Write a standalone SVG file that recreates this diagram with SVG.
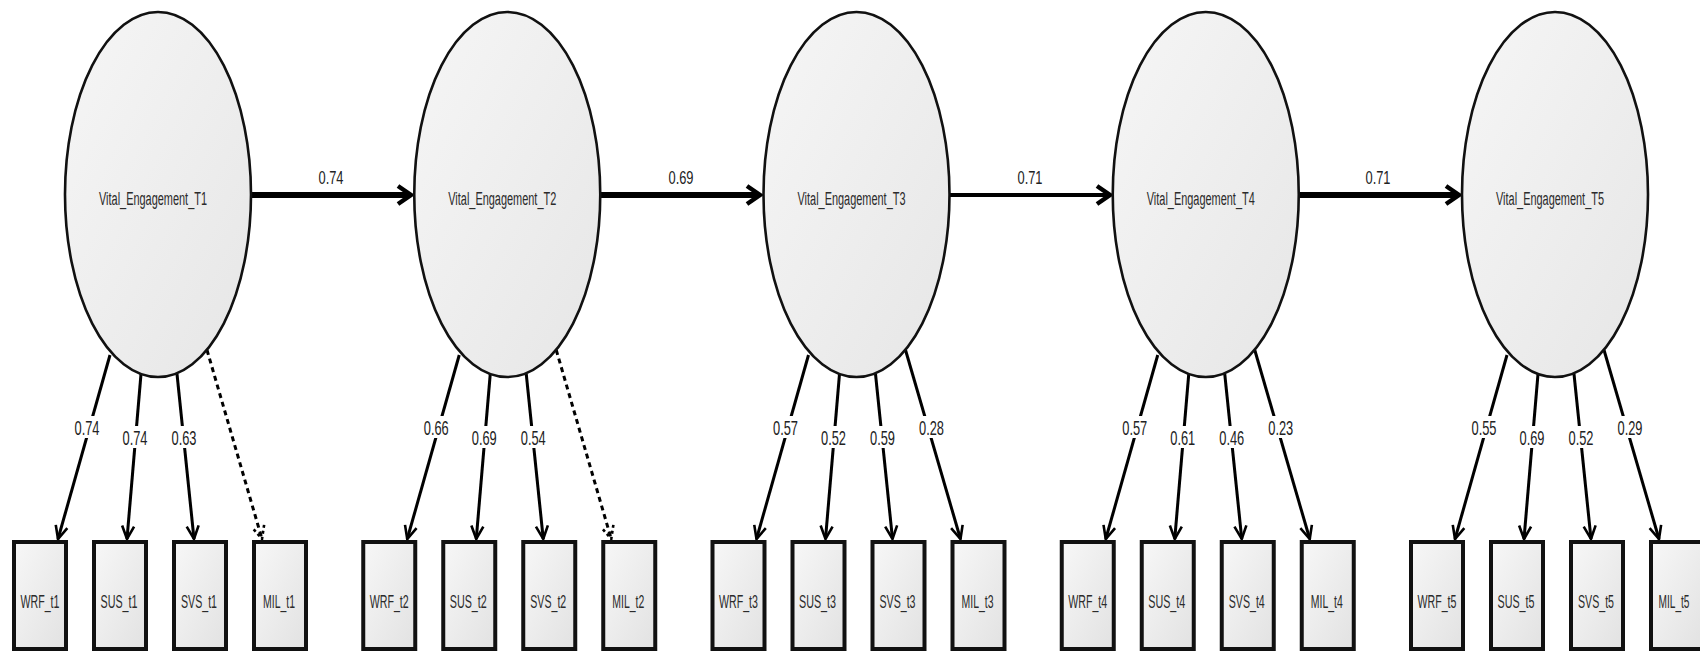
<svg xmlns="http://www.w3.org/2000/svg" width="1700" height="655" viewBox="0 0 1700 655">
  <style>
    text { font-family: "Liberation Sans", Arial, sans-serif; fill: #2b2b2b; text-anchor: middle; }
    .latent { fill: url(#latentFill); stroke: #111; stroke-width: 2.6; }
    .obs { fill: url(#obsFill); stroke: #111; stroke-width: 4; }
    .lname { font-size: 18px; }
    .oname { font-size: 19px; }
    .coef { font-size: 21px; fill: #222; }
    .pcoef { font-size: 19px; fill: #222; }
    .path { fill: none; stroke: #000; stroke-width: 6; marker-end: url(#bigHead); }
    .path.thin { stroke-width: 4; }
    .load { fill: none; stroke: #000; stroke-width: 3; marker-end: url(#smallHead); }
    .fixed { fill: none; stroke: #000; stroke-width: 3; stroke-dasharray: 5 4; marker-end: url(#dashHead); }
    .lblbg { fill: #fff; }
  </style>
  <defs>
    <linearGradient id="latentFill" x1="0" y1="0" x2="1" y2="1">
      <stop offset="0" stop-color="#f6f6f6"/>
      <stop offset="1" stop-color="#e6e6e6"/>
    </linearGradient>
    <linearGradient id="obsFill" x1="0" y1="0" x2="1" y2="1">
      <stop offset="0" stop-color="#f7f7f7"/>
      <stop offset="1" stop-color="#e2e2e2"/>
    </linearGradient>
    <marker id="bigHead" markerUnits="userSpaceOnUse" orient="auto" overflow="visible" markerWidth="20" markerHeight="20">
      <path d="M-12,-9 L1,0 L-12,9" fill="none" stroke="#000" stroke-width="4.5" stroke-linejoin="miter"/>
    </marker>
    <marker id="smallHead" markerUnits="userSpaceOnUse" orient="auto" overflow="visible" markerWidth="16" markerHeight="16">
      <path d="M-13,-6 L0,0 L-13,6" fill="none" stroke="#000" stroke-width="2.6"/>
    </marker>
    <marker id="dashHead" markerUnits="userSpaceOnUse" orient="auto" overflow="visible" markerWidth="16" markerHeight="16">
      <path d="M-13,-6 L0,0 L-13,6" fill="none" stroke="#000" stroke-width="2.6" stroke-dasharray="3 3"/>
    </marker>
  </defs>

  <!-- structural paths and factor loadings -->
  <g id="connectors">
    <line class="path" x1="251" y1="195" x2="410" y2="195"/>
    <line class="path" x1="600" y1="195" x2="759" y2="195"/>
    <line class="path thin" x1="949" y1="195" x2="1109" y2="195"/>
    <line class="path" x1="1299" y1="195" x2="1458" y2="195"/>

    <!-- T1 -->
    <line class="load" x1="110" y1="355" x2="58" y2="539"/>
    <line class="load" x1="141" y1="374" x2="127" y2="539"/>
    <line class="load" x1="177" y1="374" x2="194" y2="539"/>
    <line class="fixed" x1="207" y1="350" x2="262" y2="539"/>
    <!-- T2 -->
    <line class="load" x1="459.25" y1="355" x2="407.25" y2="539"/>
    <line class="load" x1="490.25" y1="374" x2="476.25" y2="539"/>
    <line class="load" x1="526.25" y1="374" x2="543.25" y2="539"/>
    <line class="fixed" x1="556.25" y1="350" x2="611.25" y2="539"/>
    <!-- T3 -->
    <line class="load" x1="808.5" y1="355" x2="756.5" y2="539"/>
    <line class="load" x1="839.5" y1="374" x2="825.5" y2="539"/>
    <line class="load" x1="875.5" y1="374" x2="892.5" y2="539"/>
    <line class="load" x1="905.5" y1="350" x2="960.5" y2="539"/>
    <!-- T4 -->
    <line class="load" x1="1157.75" y1="355" x2="1105.75" y2="539"/>
    <line class="load" x1="1188.75" y1="374" x2="1174.75" y2="539"/>
    <line class="load" x1="1224.75" y1="374" x2="1241.75" y2="539"/>
    <line class="load" x1="1254.75" y1="350" x2="1309.75" y2="539"/>
    <!-- T5 -->
    <line class="load" x1="1507" y1="355" x2="1455" y2="539"/>
    <line class="load" x1="1538" y1="374" x2="1524" y2="539"/>
    <line class="load" x1="1574" y1="374" x2="1591" y2="539"/>
    <line class="load" x1="1604" y1="350" x2="1659" y2="539"/>

    <!-- path coefficients -->
    <text class="pcoef" x="331" y="184" textLength="25" lengthAdjust="spacingAndGlyphs">0.74</text>
    <text class="pcoef" x="681" y="184" textLength="25" lengthAdjust="spacingAndGlyphs">0.69</text>
    <text class="pcoef" x="1030" y="184" textLength="25" lengthAdjust="spacingAndGlyphs">0.71</text>
    <text class="pcoef" x="1378" y="184" textLength="25" lengthAdjust="spacingAndGlyphs">0.71</text>

    <!-- loading labels -->
    <g id="loading-labels">
      <rect class="lblbg" x="73" y="416" width="28" height="22"/>
      <text class="coef" x="87" y="435" textLength="25" lengthAdjust="spacingAndGlyphs">0.74</text>
      <rect class="lblbg" x="121" y="426" width="28" height="22"/>
      <text class="coef" x="135" y="445" textLength="25" lengthAdjust="spacingAndGlyphs">0.74</text>
      <rect class="lblbg" x="170" y="426" width="28" height="22"/>
      <text class="coef" x="184" y="445" textLength="25" lengthAdjust="spacingAndGlyphs">0.63</text>

      <rect class="lblbg" x="422.25" y="416" width="28" height="22"/>
      <text class="coef" x="436.25" y="435" textLength="25" lengthAdjust="spacingAndGlyphs">0.66</text>
      <rect class="lblbg" x="470.25" y="426" width="28" height="22"/>
      <text class="coef" x="484.25" y="445" textLength="25" lengthAdjust="spacingAndGlyphs">0.69</text>
      <rect class="lblbg" x="519.25" y="426" width="28" height="22"/>
      <text class="coef" x="533.25" y="445" textLength="25" lengthAdjust="spacingAndGlyphs">0.54</text>

      <rect class="lblbg" x="771.5" y="416" width="28" height="22"/>
      <text class="coef" x="785.5" y="435" textLength="25" lengthAdjust="spacingAndGlyphs">0.57</text>
      <rect class="lblbg" x="819.5" y="426" width="28" height="22"/>
      <text class="coef" x="833.5" y="445" textLength="25" lengthAdjust="spacingAndGlyphs">0.52</text>
      <rect class="lblbg" x="868.5" y="426" width="28" height="22"/>
      <text class="coef" x="882.5" y="445" textLength="25" lengthAdjust="spacingAndGlyphs">0.59</text>
      <rect class="lblbg" x="917.5" y="416" width="28" height="22"/>
      <text class="coef" x="931.5" y="435" textLength="25" lengthAdjust="spacingAndGlyphs">0.28</text>

      <rect class="lblbg" x="1120.75" y="416" width="28" height="22"/>
      <text class="coef" x="1134.75" y="435" textLength="25" lengthAdjust="spacingAndGlyphs">0.57</text>
      <rect class="lblbg" x="1168.75" y="426" width="28" height="22"/>
      <text class="coef" x="1182.75" y="445" textLength="25" lengthAdjust="spacingAndGlyphs">0.61</text>
      <rect class="lblbg" x="1217.75" y="426" width="28" height="22"/>
      <text class="coef" x="1231.75" y="445" textLength="25" lengthAdjust="spacingAndGlyphs">0.46</text>
      <rect class="lblbg" x="1266.75" y="416" width="28" height="22"/>
      <text class="coef" x="1280.75" y="435" textLength="25" lengthAdjust="spacingAndGlyphs">0.23</text>

      <rect class="lblbg" x="1470" y="416" width="28" height="22"/>
      <text class="coef" x="1484" y="435" textLength="25" lengthAdjust="spacingAndGlyphs">0.55</text>
      <rect class="lblbg" x="1518" y="426" width="28" height="22"/>
      <text class="coef" x="1532" y="445" textLength="25" lengthAdjust="spacingAndGlyphs">0.69</text>
      <rect class="lblbg" x="1567" y="426" width="28" height="22"/>
      <text class="coef" x="1581" y="445" textLength="25" lengthAdjust="spacingAndGlyphs">0.52</text>
      <rect class="lblbg" x="1616" y="416" width="28" height="22"/>
      <text class="coef" x="1630" y="435" textLength="25" lengthAdjust="spacingAndGlyphs">0.29</text>
    </g>
  </g>

  <!-- latent factors -->
  <g id="Vital_Engagement_T1">
    <ellipse class="latent" cx="158" cy="194.5" rx="93" ry="182.5"/>
    <text class="lname" x="153" y="205" textLength="108" lengthAdjust="spacingAndGlyphs">Vital_Engagement_T1</text>
  </g>
  <g id="Vital_Engagement_T2">
    <ellipse class="latent" cx="507.25" cy="194.5" rx="93" ry="182.5"/>
    <text class="lname" x="502.25" y="205" textLength="108" lengthAdjust="spacingAndGlyphs">Vital_Engagement_T2</text>
  </g>
  <g id="Vital_Engagement_T3">
    <ellipse class="latent" cx="856.5" cy="194.5" rx="93" ry="182.5"/>
    <text class="lname" x="851.5" y="205" textLength="108" lengthAdjust="spacingAndGlyphs">Vital_Engagement_T3</text>
  </g>
  <g id="Vital_Engagement_T4">
    <ellipse class="latent" cx="1205.75" cy="194.5" rx="93" ry="182.5"/>
    <text class="lname" x="1200.75" y="205" textLength="108" lengthAdjust="spacingAndGlyphs">Vital_Engagement_T4</text>
  </g>
  <g id="Vital_Engagement_T5">
    <ellipse class="latent" cx="1555" cy="194.5" rx="93" ry="182.5"/>
    <text class="lname" x="1550" y="205" textLength="108" lengthAdjust="spacingAndGlyphs">Vital_Engagement_T5</text>
  </g>

  <!-- observed indicators -->
  <g id="WRF_t1"><rect class="obs" x="14" y="542" width="52" height="107"/><text class="oname" x="40" y="608" textLength="39" lengthAdjust="spacingAndGlyphs">WRF_t1</text></g>
  <g id="SUS_t1"><rect class="obs" x="94" y="542" width="52" height="107"/><text class="oname" x="119" y="608" textLength="37" lengthAdjust="spacingAndGlyphs">SUS_t1</text></g>
  <g id="SVS_t1"><rect class="obs" x="174" y="542" width="52" height="107"/><text class="oname" x="199" y="608" textLength="36" lengthAdjust="spacingAndGlyphs">SVS_t1</text></g>
  <g id="MIL_t1"><rect class="obs" x="254" y="542" width="52" height="107"/><text class="oname" x="279" y="608" textLength="32" lengthAdjust="spacingAndGlyphs">MIL_t1</text></g>

  <g id="WRF_t2"><rect class="obs" x="363.25" y="542" width="52" height="107"/><text class="oname" x="389.25" y="608" textLength="39" lengthAdjust="spacingAndGlyphs">WRF_t2</text></g>
  <g id="SUS_t2"><rect class="obs" x="443.25" y="542" width="52" height="107"/><text class="oname" x="468.25" y="608" textLength="37" lengthAdjust="spacingAndGlyphs">SUS_t2</text></g>
  <g id="SVS_t2"><rect class="obs" x="523.25" y="542" width="52" height="107"/><text class="oname" x="548.25" y="608" textLength="36" lengthAdjust="spacingAndGlyphs">SVS_t2</text></g>
  <g id="MIL_t2"><rect class="obs" x="603.25" y="542" width="52" height="107"/><text class="oname" x="628.25" y="608" textLength="32" lengthAdjust="spacingAndGlyphs">MIL_t2</text></g>

  <g id="WRF_t3"><rect class="obs" x="712.5" y="542" width="52" height="107"/><text class="oname" x="738.5" y="608" textLength="39" lengthAdjust="spacingAndGlyphs">WRF_t3</text></g>
  <g id="SUS_t3"><rect class="obs" x="792.5" y="542" width="52" height="107"/><text class="oname" x="817.5" y="608" textLength="37" lengthAdjust="spacingAndGlyphs">SUS_t3</text></g>
  <g id="SVS_t3"><rect class="obs" x="872.5" y="542" width="52" height="107"/><text class="oname" x="897.5" y="608" textLength="36" lengthAdjust="spacingAndGlyphs">SVS_t3</text></g>
  <g id="MIL_t3"><rect class="obs" x="952.5" y="542" width="52" height="107"/><text class="oname" x="977.5" y="608" textLength="32" lengthAdjust="spacingAndGlyphs">MIL_t3</text></g>

  <g id="WRF_t4"><rect class="obs" x="1061.75" y="542" width="52" height="107"/><text class="oname" x="1087.75" y="608" textLength="39" lengthAdjust="spacingAndGlyphs">WRF_t4</text></g>
  <g id="SUS_t4"><rect class="obs" x="1141.75" y="542" width="52" height="107"/><text class="oname" x="1166.75" y="608" textLength="37" lengthAdjust="spacingAndGlyphs">SUS_t4</text></g>
  <g id="SVS_t4"><rect class="obs" x="1221.75" y="542" width="52" height="107"/><text class="oname" x="1246.75" y="608" textLength="36" lengthAdjust="spacingAndGlyphs">SVS_t4</text></g>
  <g id="MIL_t4"><rect class="obs" x="1301.75" y="542" width="52" height="107"/><text class="oname" x="1326.75" y="608" textLength="32" lengthAdjust="spacingAndGlyphs">MIL_t4</text></g>

  <g id="WRF_t5"><rect class="obs" x="1411" y="542" width="52" height="107"/><text class="oname" x="1437" y="608" textLength="39" lengthAdjust="spacingAndGlyphs">WRF_t5</text></g>
  <g id="SUS_t5"><rect class="obs" x="1491" y="542" width="52" height="107"/><text class="oname" x="1516" y="608" textLength="37" lengthAdjust="spacingAndGlyphs">SUS_t5</text></g>
  <g id="SVS_t5"><rect class="obs" x="1571" y="542" width="52" height="107"/><text class="oname" x="1596" y="608" textLength="36" lengthAdjust="spacingAndGlyphs">SVS_t5</text></g>
  <g id="MIL_t5"><rect class="obs" x="1651" y="542" width="52" height="107"/><text class="oname" x="1674" y="608" textLength="31" lengthAdjust="spacingAndGlyphs">MIL_t5</text></g>
</svg>
